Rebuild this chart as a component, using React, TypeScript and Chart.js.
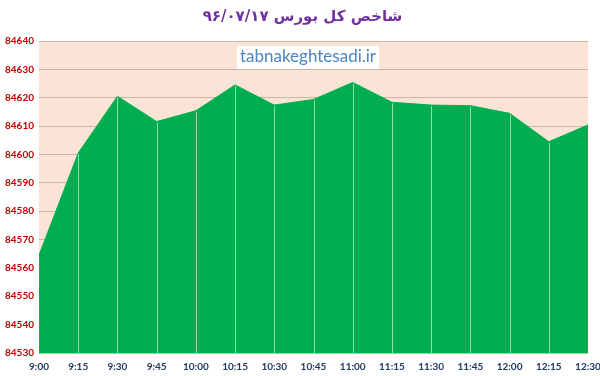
import React, { useEffect, useRef } from "react";
import { Chart, registerables } from "chart.js";

Chart.register(...registerables);

const times = ["9:00", "9:15", "9:30", "9:45", "10:00", "10:15", "10:30", "10:45", "11:00", "11:15", "11:30", "11:45", "12:00", "12:15", "12:30"];
const indexValues = [84564.5, 84600.5, 84620.5, 84611.6, 84615.4, 84624.5, 84617.4, 84619.4, 84625.4, 84618.4, 84617.4, 84617.2, 84614.5, 84604.5, 84610.4];
const yMin = 84530;
const yMax = 84640;
const yStep = 10;
const titleText = "شاخص کل بورس ۹۶/۰۷/۱۷";
const watermarkText = "tabnakeghtesadi.ir";

const bgPlugin = {
  id: "plotBg",
  beforeDraw(chart: any) {
    const { ctx, chartArea } = chart;
    ctx.save();
    ctx.fillStyle = "#fbe4d5";
    ctx.fillRect(chartArea.left, chartArea.top, chartArea.right - chartArea.left, chartArea.bottom - chartArea.top);
    ctx.restore();
  },
};

const dropLinesPlugin = {
  id: "dropLines",
  afterDatasetsDraw(chart: any) {
    const { ctx, chartArea } = chart;
    const meta = chart.getDatasetMeta(0);
    ctx.save();
    ctx.strokeStyle = "rgba(190,240,200,0.75)";
    ctx.lineWidth = 1;
    meta.data.forEach((pt: any, i: number) => {
      if (i === 0 || i === meta.data.length - 1) return;
      const x = Math.round(pt.x) + 0.5;
      ctx.beginPath();
      ctx.moveTo(x, pt.y + 1);
      ctx.lineTo(x, chartArea.bottom);
      ctx.stroke();
    });
    ctx.restore();
  },
};

const watermarkPlugin = {
  id: "watermark",
  afterDraw(chart: any) {
    const { ctx } = chart;
    ctx.save();
    ctx.font = "17px Lato, 'Open Sans', sans-serif";
    const w = ctx.measureText(watermarkText).width;
    const cx = 308;
    const cy = 57;
    ctx.fillStyle = "#ffffff";
    ctx.fillRect(cx - w / 2 - 3, cy - 11, w + 6, 23);
    ctx.fillStyle = "#4a86c0";
    ctx.textAlign = "center";
    ctx.textBaseline = "middle";
    ctx.fillText(watermarkText, cx, cy);
    ctx.restore();
  },
};

export default function App() {
  const ref = useRef<HTMLCanvasElement>(null);
  useEffect(() => {
    if (!ref.current) return;
    const chart = new Chart(ref.current, {
      type: "line",
      data: {
        labels: times,
        datasets: [
          {
            data: indexValues,
            fill: "start",
            backgroundColor: "#00ad4f",
            borderColor: "#00b050",
            borderWidth: 1,
            pointRadius: 0,
            tension: 0,
          },
        ],
      },
      plugins: [bgPlugin, dropLinesPlugin, watermarkPlugin],
      options: {
        responsive: false,
        animation: false,
        layout: { padding: { left: 5, right: 0, top: 0, bottom: 3 } },
        plugins: {
          legend: { display: false },
          tooltip: { enabled: false },
          title: {
            display: true,
            text: titleText,
            color: "#7030a0",
            font: { family: "'DejaVu Sans'", size: 15, weight: "bold" },
            padding: { top: 8, bottom: 15 },
          },
        },
        scales: {
          x: {
            offset: false,
            grid: { display: false, drawTicks: false },
            border: { display: false },
            afterFit: (s: any) => {
              s.height = 20;
              s.paddingLeft = 0;
              s.paddingRight = 12;
            },
            ticks: {
              color: "#1f3864",
              font: { family: "Lato, 'Open Sans', sans-serif", size: 10, weight: "bold" },
              padding: 8,
              maxRotation: 0,
              autoSkip: false,
            },
          },
          y: {
            min: yMin,
            max: yMax,
            grid: { color: "#cdb5a5", drawTicks: false, lineWidth: 1 },
            border: { display: false },
            afterFit: (s: any) => {
              s.width = 34;
              s.paddingTop = 0;
              s.paddingBottom = 0;
            },
            ticks: {
              stepSize: yStep,
              color: "#c00000",
              crossAlign: "far",
              padding: 4,
              callback: (v: any) => String(v),
              font: { family: "Lato, 'Open Sans', sans-serif", size: 10, weight: "bold" },
            },
          },
        },
      },
    });
    return () => chart.destroy();
  }, []);
  return (
    <div style={{ position: "fixed", left: 0, top: 0, width: 600, height: 376, background: "#fff" }}>
      <canvas ref={ref} width={600} height={376} style={{ display: "block" }} />
    </div>
  );
}
